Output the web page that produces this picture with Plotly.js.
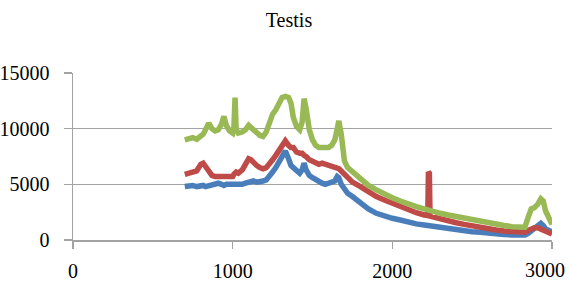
<!DOCTYPE html>
<html>
<head>
<meta charset="utf-8">
<script src="https://cdn.plot.ly/plotly-3.0.1.min.js"></script>
<style>html,body{margin:0;padding:0;background:#fff;}#chart{width:570px;height:290px;}</style>
</head>
<body>
<div id="chart"></div>
<script>
const wavenumber = [700,725,750,775,800,815,830,850,870,890,910,930,945,960,980,1000,1008,1015,1022,1035,1060,1080,1100,1115,1130,1150,1170,1190,1210,1230,1250,1270,1290,1310,1330,1350,1365,1380,1400,1420,1435,1447,1460,1480,1500,1520,1540,1560,1580,1600,1620,1640,1655,1665,1680,1700,1720,1750,1800,1850,1900,1950,2000,2050,2100,2150,2200,2222,2226,2232,2236,2260,2300,2350,2400,2450,2500,2550,2600,2650,2700,2750,2800,2830,2850,2870,2890,2910,2930,2945,2960,2980,3000];

const blueSeries = [4800,4900,4900,4800,4900,4900,4800,4900,5000,5000,5100,5000,4900,5000,5000,4900,4900,5000,5000,4900,5000,5100,5200,5200,5300,5200,5200,5300,5400,5700,6100,6500,7000,7500,8000,7300,6700,6500,6200,6000,6300,6900,6300,5800,5600,5400,5200,5100,5000,5100,5100,5300,5700,5600,5000,4500,4200,3900,3300,2800,2400,2150,1950,1800,1600,1450,1350,1300,1300,1280,1270,1200,1100,1000,900,820,750,700,600,550,500,450,420,450,600,800,1000,1200,1500,1300,1000,850,750];

const redSeries = [5900,6000,6100,6200,6800,6900,6600,6100,5800,5700,5700,5700,5800,5700,5800,5700,5900,6000,6100,6000,6300,6800,7300,7200,6900,6700,6500,6400,6500,6800,7200,7600,8100,8600,8900,8500,8300,8300,7900,7800,7800,7600,7500,7200,7100,6900,6800,6900,6800,6700,6700,6600,6500,6400,6200,5900,5600,5200,4800,4300,3900,3600,3300,3000,2700,2450,2250,2200,6100,6000,2150,2050,1900,1700,1550,1400,1250,1100,1000,900,800,750,650,700,850,1000,1100,1100,1000,900,800,650,550];

const greenSeries = [9000,9100,9200,9050,9300,9500,9900,10500,10000,9800,9900,10400,11100,10300,9800,9600,10200,12800,9900,9600,9700,9900,10300,10100,10000,9700,9400,9300,9700,10500,11300,11700,12200,12800,12900,12800,12300,11000,10200,9900,10600,12700,11800,9900,9000,8500,8300,8300,8200,8300,8500,9000,10000,10700,9500,7100,6500,6100,5500,4900,4500,4100,3800,3500,3200,3000,2800,2700,2700,2680,2650,2550,2400,2250,2100,1950,1800,1650,1550,1400,1300,1200,1100,1150,2000,2800,2900,3200,3700,3500,2600,1900,1400];

const titleText = "Testis";
const xTicks = [0,1000,2000,3000];
const xTickLabels = ["0","1000","2000",""];
const lastXLabel = "3000";
const yTicks = [0,5000,10000,15000];

const font = "Liberation Serif";
const gray = "#a3a3a3";

function trace(y, color){
  return {x: wavenumber, y: y, type: "scatter", mode: "lines",
    line: {color: color, width: 5.5}, showlegend: false, hoverinfo: "skip"};
}

const data = [
  trace(blueSeries, "#4a7ebb"),
  trace(redSeries, "#be4b48"),
  trace(greenSeries, "#98b954")
];

const layout = {
  width: 570, height: 290,
  margin: {l: 73, r: 18, t: 73, b: 50},
  paper_bgcolor: "#fff", plot_bgcolor: "#fff",
  font: {family: font, size: 20, color: "#000"},
  title: {text: titleText, font: {family: font, size: 20, color: "#000"},
    x: 289/570, xanchor: "center", xref: "container",
    y: 1 - 20/290, yanchor: "middle", yref: "container"},
  xaxis: {range: [0, 3000], tickvals: xTicks, ticktext: xTickLabels,
    showgrid: false, zeroline: false, showline: true, linecolor: gray, linewidth: 1.5,
    ticks: "outside", ticklen: 7, tickcolor: gray, tickwidth: 1.5,
    ticklabelstandoff: 5,
    tickfont: {family: font, size: 20, color: "#000"}, fixedrange: true},
  yaxis: {range: [0, 15000], tickvals: yTicks, ticktext: yTicks.map(String),
    showgrid: true, gridcolor: gray, gridwidth: 1.5, zeroline: false,
    showline: true, linecolor: gray, linewidth: 1.5,
    ticks: "outside", ticklen: 8, tickcolor: gray, tickwidth: 1.5,
    ticklabelstandoff: 10,
    tickfont: {family: font, size: 20, color: "#000"}, fixedrange: true},
  annotations: [{text: lastXLabel, xref: "paper", yref: "paper",
    x: 1 + 15/479, xanchor: "right", y: -30/167, yanchor: "middle",
    showarrow: false, font: {family: font, size: 20, color: "#000"}}]
};

Plotly.newPlot("chart", data, layout, {displayModeBar: false, staticPlot: true});
</script>
</body>
</html>
